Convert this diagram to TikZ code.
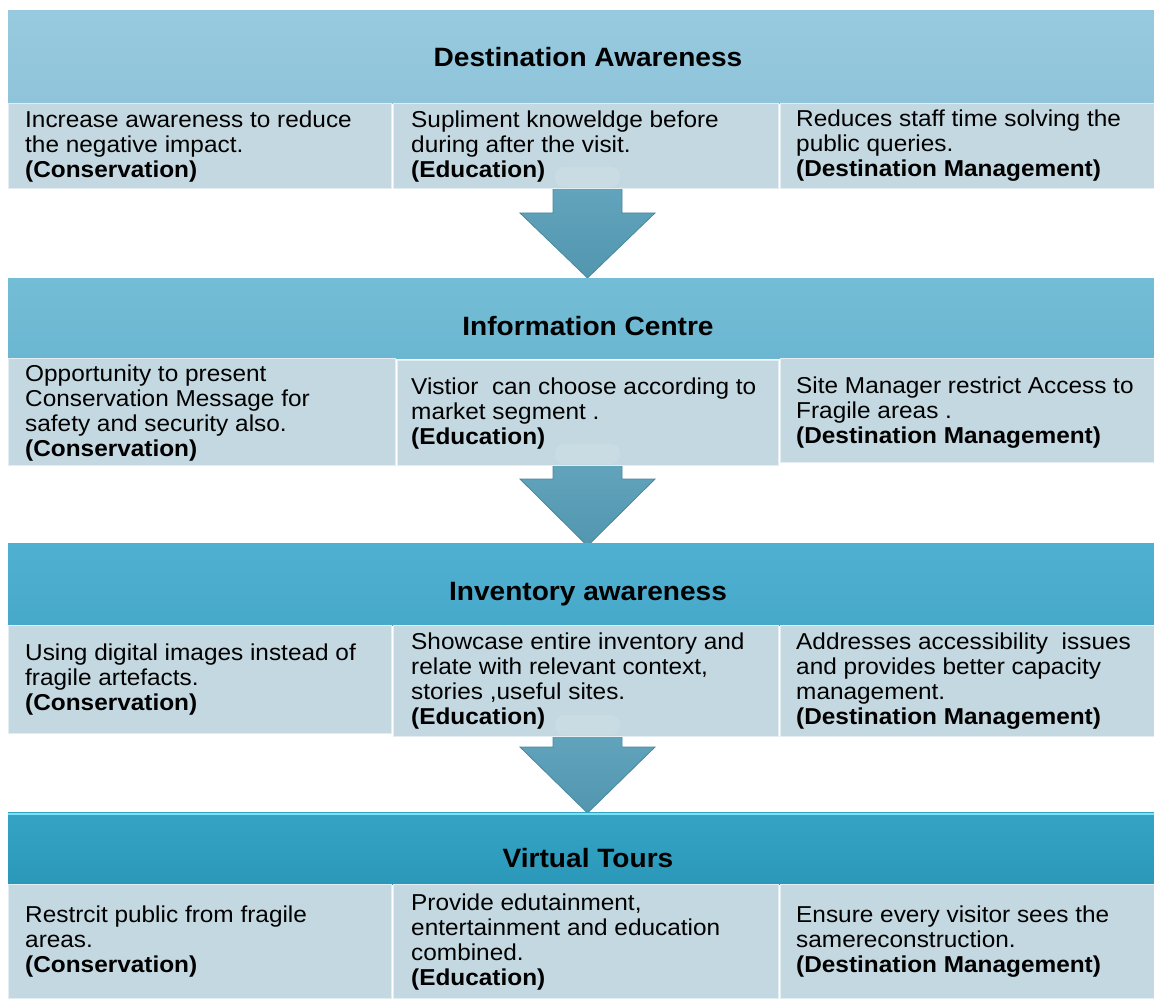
\documentclass[tikz,border=0pt]{standalone}
\usepackage{fontspec}
\setmainfont{Liberation Sans}[FakeStretch=1.06]
\definecolor{hdrA}{HTML}{8FC4DA}
\definecolor{hdrAt}{HTML}{98CADF}
\definecolor{hdrB}{HTML}{6BB6D1}
\definecolor{hdrBt}{HTML}{74BDD6}
\definecolor{hdrC}{HTML}{47A9CA}
\definecolor{hdrCt}{HTML}{50B0D1}
\definecolor{hdrD}{HTML}{2B98B9}
\definecolor{hdrDt}{HTML}{35A4C4}
\definecolor{boxc}{HTML}{C3D8E0}
\definecolor{boxedge}{HTML}{E4EEF2}
\definecolor{arrtop}{HTML}{64A6BE}
\definecolor{arrbot}{HTML}{5296AF}
\definecolor{arredge}{HTML}{4A889F}
\begin{document}
\begin{tikzpicture}[x=1pt,y=-1pt,
  hdr/.style={rectangle, draw=none, minimum width=1146pt, anchor=north west, inner sep=0pt},
  subbox/.style={rectangle, fill=boxc, draw=boxedge, line width=1.2pt, anchor=north west, inner sep=0pt},
  txt/.style={align=left, inner sep=0pt, anchor=west, text=black, font=\fontsize{23}{25}\selectfont},
  title/.style={inner sep=0pt, anchor=base, text=black, font=\fontsize{26.5}{30}\selectfont\bfseries},
  flowarrow/.style={top color=arrtop, bottom color=arrbot, draw=arredge, line width=0.8pt}]
\useasboundingbox (0,0) rectangle (1154,1000);

% arrows (behind the boxes)
\foreach \ya/\yb/\yc in {175/213/278, 450/479/546, 720/747/813}{
  \path[flowarrow] (553,\ya) -- (622,\ya) -- (622,\yb) -- (655,\yb) -- (587.5,\yc)
     -- (520,\yb) -- (553,\yb) -- cycle;
}

% ---------- row 1
\node[hdr, top color=hdrAt, bottom color=hdrA, minimum height=93pt] (h1) at (8,10) {};
\node[title] (h1t) at (588,67) {Destination Awareness};
\node[subbox, minimum width=383pt, minimum height=85pt] (b11) at (8,103) {};
\node[subbox, minimum width=385pt, minimum height=85pt] (b12) at (393,103) {};
\node[subbox, minimum width=374pt, minimum height=85pt] (b13) at (780,103) {};
\node[txt] (t11) at ([xshift=17pt]b11.west) {Increase awareness to reduce\\the negative impact.\\\textbf{(Conservation)}};
\node[txt] (t12) at ([xshift=18pt]b12.west) {Supliment knoweldge before\\during after the visit.\\\textbf{(Education)}};
\node[txt] (t13) at ([xshift=16pt]b13.west) {Reduces staff time solving the\\public queries.\\\textbf{(Destination Management)}};

% ---------- row 2
\node[hdr, top color=hdrBt, bottom color=hdrB, minimum height=80pt] (h2) at (8,278) {};
\node[title] (h2t) at (588,335) {Information Centre};
\node[subbox, minimum width=387pt, minimum height=107pt] (b21) at (8,358) {};
\node[subbox, minimum width=381pt, minimum height=105pt] (b22) at (397,360) {};
\node[subbox, minimum width=374pt, minimum height=104pt] (b23) at (780,358) {};
\node[txt] (t21) at ([xshift=17pt,yshift=-1pt]b21.west) {Opportunity to present\\Conservation Message for\\safety and security also.\\\textbf{(Conservation)}};
\node[txt] (t22) at ([xshift=14pt]b22.west) {Vistior\ \ can choose according to\\market segment .\\\textbf{(Education)}};
\node[txt] (t23) at ([xshift=16pt,yshift=-2pt]b23.west) {Site Manager restrict Access to\\Fragile areas .\\\textbf{(Destination Management)}};

% ---------- row 3
\node[hdr, top color=hdrCt, bottom color=hdrC, minimum height=82pt] (h3) at (8,543) {};
\node[title] (h3t) at (588,600) {Inventory awareness};
\node[subbox, minimum width=383pt, minimum height=108pt] (b31) at (8,625) {};
\node[subbox, minimum width=385pt, minimum height=111pt] (b32) at (393,625) {};
\node[subbox, minimum width=374pt, minimum height=111pt] (b33) at (780,625) {};
\node[txt] (t31) at ([xshift=17pt]b31.west) {Using digital images instead of\\fragile artefacts.\\\textbf{(Conservation)}};
\node[txt] (t32) at ([xshift=18pt]b32.west) {Showcase entire inventory and\\relate with relevant context,\\stories ,useful sites.\\\textbf{(Education)}};
\node[txt] (t33) at ([xshift=16pt]b33.west) {Addresses accessibility\ \ issues\\and provides better capacity\\management.\\\textbf{(Destination Management)}};

% ---------- row 4
\node[hdr, top color=hdrDt, bottom color=hdrD, minimum height=72pt] (h4) at (8,812) {};
\draw[color={rgb,255:red,120;green,226;blue,244}, line width=2.5pt] ([yshift=-2pt]h4.north west) -- ([yshift=-2pt]h4.north east);
\node[title] (h4t) at (588,867) {Virtual Tours};
\node[subbox, minimum width=383pt, minimum height=114pt] (b41) at (8,884) {};
\node[subbox, minimum width=385pt, minimum height=114pt] (b42) at (393,884) {};
\node[subbox, minimum width=374pt, minimum height=114pt] (b43) at (780,884) {};
\node[txt] (t41) at ([xshift=17pt]b41.west) {Restrcit public from fragile\\areas.\\\textbf{(Conservation)}};
\node[txt] (t42) at ([xshift=18pt]b42.west) {Provide edutainment,\\entertainment and education\\combined.\\\textbf{(Education)}};
\node[txt] (t43) at ([xshift=16pt]b43.west) {Ensure every visitor sees the\\samereconstruction.\\\textbf{(Destination Management)}};

% translucent arrow tops over the boxes
\foreach \yb in {187, 464, 735}{
  \fill[white, opacity=0.1, rounded corners=9pt] (555,\yb-20) rectangle (620,\yb);
}
\end{tikzpicture}
\end{document}
